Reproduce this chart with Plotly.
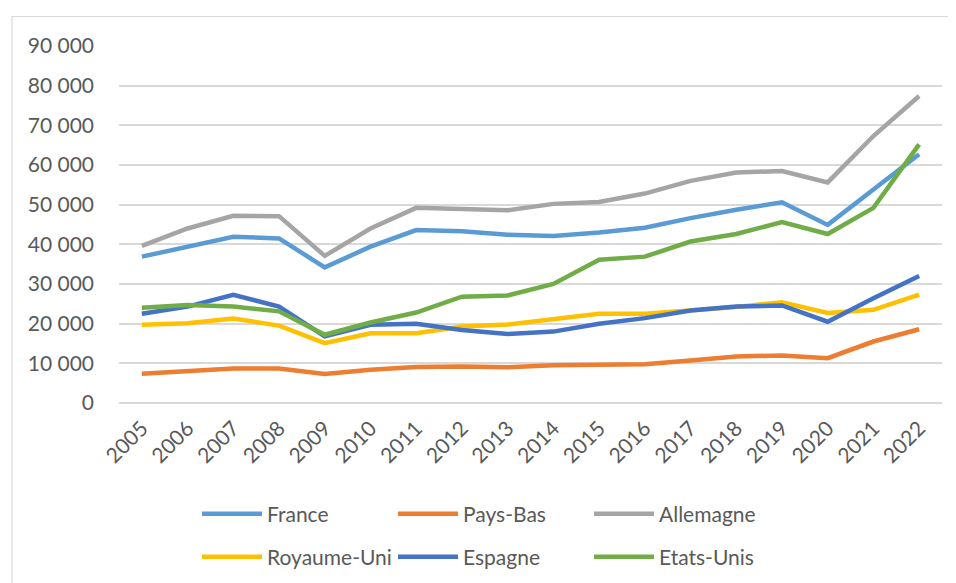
import plotly.graph_objects as go

years = [str(y) for y in range(2005, 2023)]

france = [36900, 39400, 41900, 41500, 34200, 39400, 43600, 43300, 42400, 42100,
          43000, 44200, 46600, 48700, 50600, 44900, 53700, 62700]
pays_bas = [7400, 8100, 8700, 8700, 7300, 8400, 9100, 9200, 9000, 9500,
            9600, 9800, 10700, 11700, 12000, 11300, 15500, 18600]
allemagne = [39600, 44000, 47200, 47100, 37100, 44000, 49200, 48800, 48600, 50200,
             50700, 52800, 56000, 58100, 58500, 55600, 67300, 77400]
royaume_uni = [19700, 20100, 21300, 19500, 15100, 17600, 17600, 19300, 19800, 21100,
               22500, 22500, 23300, 24200, 25400, 22700, 23500, 27300]
espagne = [22500, 24300, 27300, 24300, 16800, 19700, 20000, 18400, 17400, 18000,
           20000, 21400, 23300, 24300, 24600, 20500, 26400, 32000]
etats_unis = [24000, 24700, 24300, 23100, 17200, 20300, 22800, 26800, 27100, 30000,
              36100, 36900, 40700, 42600, 45600, 42600, 49200, 65200]

series = [
    ("France", france, "#5B9BD5", "legend"),
    ("Pays-Bas", pays_bas, "#ED7D31", "legend"),
    ("Allemagne", allemagne, "#A5A5A5", "legend"),
    ("Royaume-Uni", royaume_uni, "#FFC000", "legend2"),
    ("Espagne", espagne, "#4472C4", "legend2"),
    ("Etats-Unis", etats_unis, "#70AD47", "legend2"),
]

FONT = "Lato"
TXT = "#595959"
FS = 21

fig = go.Figure()
for name, vals, color, lg in series:
    fig.add_trace(go.Scatter(
        x=years, y=vals, name=name, mode="lines",
        line=dict(color=color, width=4.5), legend=lg,
    ))

# page has an 8px body margin; figure coordinates are page minus 8
OFF = 8
W, H = 956, 583
ml = 119 - OFF
mt = 46 - OFF
mr = W - (942 - OFF)
mb = H - (403 - OFF)
pw = W - ml - mr
ph = H - mt - mb

def px_x(p):
    return (p - OFF - ml) / pw

def px_y(p):
    return 1 - (p - OFF - mt) / ph

legend_common = dict(
    orientation="h", entrywidth=121, entrywidthmode="pixels", itemwidth=60,
    font=dict(family=FONT, size=FS, color=TXT),
    xref="container", yref="container", xanchor="left", yanchor="middle",
    bgcolor="rgba(0,0,0,0)",
)

fig.update_layout(
    width=W, height=H,
    margin=dict(l=ml, r=mr, t=mt, b=mb, autoexpand=False),
    paper_bgcolor="white", plot_bgcolor="white",
    separators=", ",
    font=dict(family=FONT, size=FS, color=TXT),
    xaxis=dict(
        type="category", tickangle=-45, showgrid=False, showline=False,
        ticks="", tickfont=dict(family=FONT, size=FS, color=TXT),
        range=[-0.5, 17.5], ticklabelstandoff=8,
    ),
    yaxis=dict(
        range=[0, 90000], dtick=10000, tickformat=",d",
        showgrid=True, gridcolor="#D9D9D9", gridwidth=1.5,
        zeroline=True, zerolinecolor="#D9D9D9", zerolinewidth=1.5,
        showline=False, ticks="", ticklabelstandoff=24,
        tickfont=dict(family=FONT, size=FS, color=TXT),
    ),
    legend=dict(x=(197 - OFF) / W, y=1 - (514 - OFF) / H, **legend_common),
    legend2=dict(x=(197 - OFF) / W, y=1 - (557 - OFF) / H, **legend_common),
    shapes=[dict(
        type="rect", xref="paper", yref="paper",
        x0=px_x(12), x1=px_x(1000), y0=px_y(16.5), y1=px_y(620),
        line=dict(color="#D9D9D9", width=1.2), fillcolor="rgba(0,0,0,0)",
        layer="below",
    )],
)

fig.write_html("out.html")
